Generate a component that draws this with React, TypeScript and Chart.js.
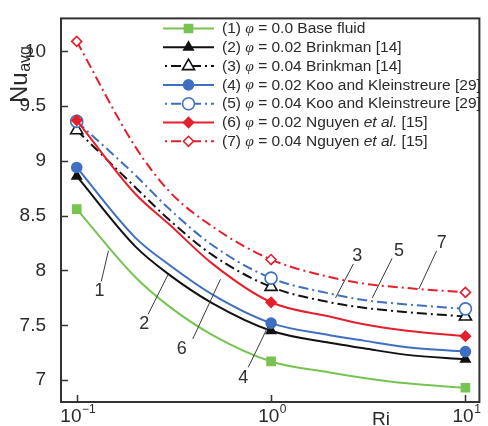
import React, { useEffect, useRef } from 'react';
import { Chart, registerables } from 'chart.js';

Chart.register(...registerables);

// Richardson numbers at which the curves are sampled, and where markers sit
const riSamples = [0.1, 0.2, 0.3, 0.5, 1, 2, 3, 5, 10];
const riMarked = [0.1, 1, 10];

// Average Nusselt number for each case
const nuBaseFluid = [8.56, 7.94, 7.67, 7.41, 7.17, 7.07, 7.02, 6.97, 6.93];
const nuBrinkman02 = [8.86, 8.22, 7.96, 7.7, 7.45, 7.34, 7.29, 7.23, 7.19];
const nuBrinkman04 = [9.28, 8.76, 8.46, 8.14, 7.85, 7.71, 7.66, 7.62, 7.58];
const nuKoo02 = [8.94, 8.3, 8.05, 7.78, 7.52, 7.41, 7.36, 7.3, 7.26];
const nuKoo04 = [9.36, 8.87, 8.56, 8.23, 7.93, 7.79, 7.73, 7.69, 7.65];
const nuNguyen02 = [9.37, 8.7, 8.42, 8.06, 7.71, 7.58, 7.51, 7.45, 7.4];
const nuNguyen04 = [10.09, 9.13, 8.72, 8.4, 8.1, 7.94, 7.88, 7.84, 7.8];

const yTicks = [7, 7.5, 8, 8.5, 9, 9.5, 10];
const xTicks = [0.1, 1, 10];
const xTickExponents = ['\u22121', '0', '1'];

// Numbered call-outs: label position and the two ends of the leader line
const calloutLabels = ['1', '2', '6', '4', '3', '5', '7'];
const calloutTextRi = [0.131, 0.2223, 0.3475, 0.72, 2.779, 4.55, 7.545];
const calloutTextNu = [7.81, 7.51, 7.28, 7.02, 8.13, 8.18, 8.25];
const calloutCurveRi = [0.1456, 0.2946, 0.549, 0.965, 2.146, 3.315, 5.756];
const calloutCurveNu = [8.18, 7.96, 7.92, 7.49, 7.75, 7.75, 7.83];
const calloutEndRi = [0.1337, 0.233, 0.3954, 0.763, 2.652, 4.193, 7.112];
const calloutEndNu = [7.9, 7.6, 7.375, 7.116, 8.06, 8.11, 8.18];

const GREEN = '#78c452';
const BLACK = '#111111';
const BLUE = '#3f6fc0';
const RED = '#e4202c';
const DASHDOT = [10, 4, 2, 4];

type Part = { t: string; phi?: boolean; it?: boolean };
type Series = {
  values: number[];
  color: string;
  dash: number[];
  shape: 'rect' | 'triangle' | 'circle' | 'rectRot';
  radius: number;
  open: boolean;
  label: Part[];
};

const series: Series[] = [
  {
    values: nuBaseFluid, color: GREEN, dash: [], shape: 'rect', radius: 5.7, open: false,
    label: [{ t: '(1) ' }, { t: '\u03c6', phi: true }, { t: ' = 0.0 Base fluid' }],
  },
  {
    values: nuBrinkman02, color: BLACK, dash: [], shape: 'triangle', radius: 5.4, open: false,
    label: [{ t: '(2) ' }, { t: '\u03c6', phi: true }, { t: ' = 0.02 Brinkman [14]' }],
  },
  {
    values: nuBrinkman04, color: BLACK, dash: DASHDOT, shape: 'triangle', radius: 7, open: true,
    label: [{ t: '(3) ' }, { t: '\u03c6', phi: true }, { t: ' = 0.04 Brinkman [14]' }],
  },
  {
    values: nuKoo02, color: BLUE, dash: [], shape: 'circle', radius: 5, open: false,
    label: [{ t: '(4) ' }, { t: '\u03c6', phi: true }, { t: ' = 0.02 Koo and Kleinstreure [29]' }],
  },
  {
    values: nuKoo04, color: BLUE, dash: DASHDOT, shape: 'circle', radius: 6, open: true,
    label: [{ t: '(5) ' }, { t: '\u03c6', phi: true }, { t: ' = 0.04 Koo and Kleinstreure [29]' }],
  },
  {
    values: nuNguyen02, color: RED, dash: [], shape: 'rectRot', radius: 5, open: false,
    label: [{ t: '(6) ' }, { t: '\u03c6', phi: true }, { t: ' = 0.02 Nguyen ' }, { t: 'et al.', it: true }, { t: ' [15]' }],
  },
  {
    values: nuNguyen04, color: RED, dash: DASHDOT, shape: 'rectRot', radius: 5, open: true,
    label: [{ t: '(7) ' }, { t: '\u03c6', phi: true }, { t: ' = 0.04 Nguyen ' }, { t: 'et al.', it: true }, { t: ' [15]' }],
  },
];

const SANS = '"Liberation Sans", Arial, sans-serif';
const SERIF = '"Liberation Serif", "Times New Roman", serif';
const INK = '#2a2a2a';

function drawMarker(ctx: CanvasRenderingContext2D, s: Series, x: number, y: number) {
  const r = s.radius;
  ctx.save();
  ctx.setLineDash([]);
  ctx.beginPath();
  if (s.shape === 'rect') {
    const h = Math.SQRT1_2 * r;
    ctx.rect(x - h, y - h, 2 * h, 2 * h);
  } else if (s.shape === 'triangle') {
    for (let k = 0; k < 3; k++) {
      const a = (k * 2 * Math.PI) / 3;
      const px = x + Math.sin(a) * r;
      const py = y - Math.cos(a) * r;
      if (k === 0) ctx.moveTo(px, py);
      else ctx.lineTo(px, py);
    }
    ctx.closePath();
  } else if (s.shape === 'circle') {
    ctx.arc(x, y, r, 0, Math.PI * 2);
  } else {
    ctx.moveTo(x - r, y);
    ctx.lineTo(x, y - r);
    ctx.lineTo(x + r, y);
    ctx.lineTo(x, y + r);
    ctx.closePath();
  }
  ctx.fillStyle = s.open ? '#ffffff' : s.color;
  ctx.fill();
  ctx.lineWidth = 1.6;
  ctx.strokeStyle = s.color;
  ctx.stroke();
  ctx.restore();
}

const decorations = {
  id: 'decorations',
  afterDraw(chart: any) {
    const { ctx, chartArea: area, scales } = chart;
    const xs = scales.x;
    const ys = scales.y;
    ctx.save();

    // axes box
    ctx.strokeStyle = '#333333';
    ctx.lineWidth = 2;
    ctx.setLineDash([]);
    ctx.strokeRect(area.left, area.top, area.right - area.left, area.bottom - area.top);

    // inward tick marks
    ctx.lineWidth = 1.5;
    ctx.beginPath();
    yTicks.forEach((v) => {
      const py = Math.round(ys.getPixelForValue(v)) + 0.5;
      ctx.moveTo(area.left, py);
      ctx.lineTo(area.left + 7, py);
    });
    xTicks.forEach((v) => {
      const px = Math.round(xs.getPixelForValue(v)) + 0.5;
      ctx.moveTo(px, area.bottom);
      ctx.lineTo(px, area.bottom - 7);
    });
    ctx.stroke();

    // x tick labels as powers of ten
    ctx.fillStyle = INK;
    ctx.textBaseline = 'alphabetic';
    ctx.textAlign = 'left';
    xTicks.forEach((v, i) => {
      const px = xs.getPixelForValue(v);
      ctx.font = `19px ${SANS}`;
      const wb = ctx.measureText('10').width;
      ctx.font = `12px ${SANS}`;
      const we = ctx.measureText(xTickExponents[i]).width;
      const x0 = px - (wb + we) / 2 + 1;
      ctx.font = `19px ${SANS}`;
      ctx.fillText('10', x0, 422);
      ctx.font = `12px ${SANS}`;
      ctx.fillText(xTickExponents[i], x0 + wb + 0.5, 413);
    });

    // axis titles
    ctx.font = `19px ${SANS}`;
    ctx.textAlign = 'center';
    ctx.fillText('Ri', 381, 425);

    ctx.save();
    ctx.translate(27, 103);
    ctx.rotate(-Math.PI / 2);
    ctx.textAlign = 'left';
    ctx.font = `24px ${SANS}`;
    ctx.fillText('Nu', 0, 0);
    const wNu = ctx.measureText('Nu').width;
    ctx.font = `16px ${SANS}`;
    ctx.fillText('avg', wNu + 0.5, 3);
    ctx.restore();

    // call-outs
    ctx.strokeStyle = '#3a3a3a';
    ctx.lineWidth = 1;
    ctx.beginPath();
    calloutLabels.forEach((_, i) => {
      ctx.moveTo(xs.getPixelForValue(calloutCurveRi[i]), ys.getPixelForValue(calloutCurveNu[i]));
      ctx.lineTo(xs.getPixelForValue(calloutEndRi[i]), ys.getPixelForValue(calloutEndNu[i]));
    });
    ctx.stroke();
    ctx.font = `18px ${SANS}`;
    ctx.textAlign = 'center';
    ctx.textBaseline = 'middle';
    ctx.fillStyle = '#303030';
    calloutLabels.forEach((lab, i) => {
      ctx.fillText(lab, xs.getPixelForValue(calloutTextRi[i]), ys.getPixelForValue(calloutTextNu[i]));
    });

    // legend
    const rowTop = 28.5;
    const rowStep = 18.8;
    series.forEach((s, i) => {
      const cy = rowTop + i * rowStep;
      ctx.strokeStyle = s.color;
      ctx.lineWidth = 2;
      ctx.setLineDash(s.dash);
      ctx.lineDashOffset = s.dash.length ? 12 : 0;
      ctx.beginPath();
      ctx.moveTo(163, cy);
      ctx.lineTo(214, cy);
      ctx.stroke();
      ctx.setLineDash([]);
      ctx.lineDashOffset = 0;
      drawMarker(ctx, s, 188.5, cy);

      let tx = 222;
      ctx.textAlign = 'left';
      ctx.textBaseline = 'middle';
      ctx.fillStyle = INK;
      s.label.forEach((p) => {
        ctx.font = p.phi ? `italic 15.5px ${SERIF}` : p.it ? `italic 15.5px ${SANS}` : `15.5px ${SANS}`;
        ctx.fillText(p.t, tx, cy + 0.5);
        tx += ctx.measureText(p.t).width;
      });
    });

    ctx.restore();
  },
};

export default function App() {
  const canvasRef = useRef<HTMLCanvasElement | null>(null);

  useEffect(() => {
    if (!canvasRef.current) return;
    const datasets = series.map((s, i) => ({
      data: riSamples.map((ri, k) => ({ x: ri, y: s.values[k] })),
      borderColor: s.color,
      borderWidth: 2,
      borderDash: s.dash,
      backgroundColor: s.open ? '#ffffff' : s.color,
      pointBackgroundColor: s.open ? '#ffffff' : s.color,
      pointBorderColor: s.color,
      pointBorderWidth: 1.6,
      pointStyle: s.shape,
      pointRadius: (c: any) => (riMarked.includes(riSamples[c.dataIndex]) ? s.radius : 0),
      pointHoverRadius: (c: any) => (riMarked.includes(riSamples[c.dataIndex]) ? s.radius : 0),
      cubicInterpolationMode: 'monotone' as const,
      fill: false,
      order: -i,
    }));

    const chart = new Chart(canvasRef.current, {
      type: 'line',
      data: { datasets },
      plugins: [decorations],
      options: {
        animation: false,
        responsive: false,
        devicePixelRatio: 1,
        layout: { padding: { top: 13, right: 5, left: 0, bottom: 0 } },
        plugins: { legend: { display: false }, tooltip: { enabled: false } },
        events: [],
        scales: {
          x: {
            type: 'logarithmic',
            min: 0.083,
            max: 11.8,
            grid: { display: false },
            border: { display: false },
            ticks: { display: false },
            afterBuildTicks: (scale: any) => {
              scale.ticks = xTicks.map((v) => ({ value: v }));
            },
            afterFit: (scale: any) => {
              scale.height = 24;
            },
          },
          y: {
            type: 'linear',
            min: 6.8,
            max: 10.3,
            grid: { display: false },
            border: { display: false },
            afterBuildTicks: (scale: any) => {
              scale.ticks = yTicks.map((v) => ({ value: v }));
            },
            ticks: {
              padding: 7,
              color: INK,
              font: { family: SANS, size: 19 },
              callback: (v: any) => String(v),
            },
            afterFit: (scale: any) => {
              scale.width = 61;
            },
          },
        },
      },
    });
    return () => chart.destroy();
  }, []);

  return (
    <div style={{ position: 'absolute', left: 0, top: 0, width: 488, height: 426, background: '#ffffff' }}>
      <canvas ref={canvasRef} width={488} height={426} />
    </div>
  );
}
